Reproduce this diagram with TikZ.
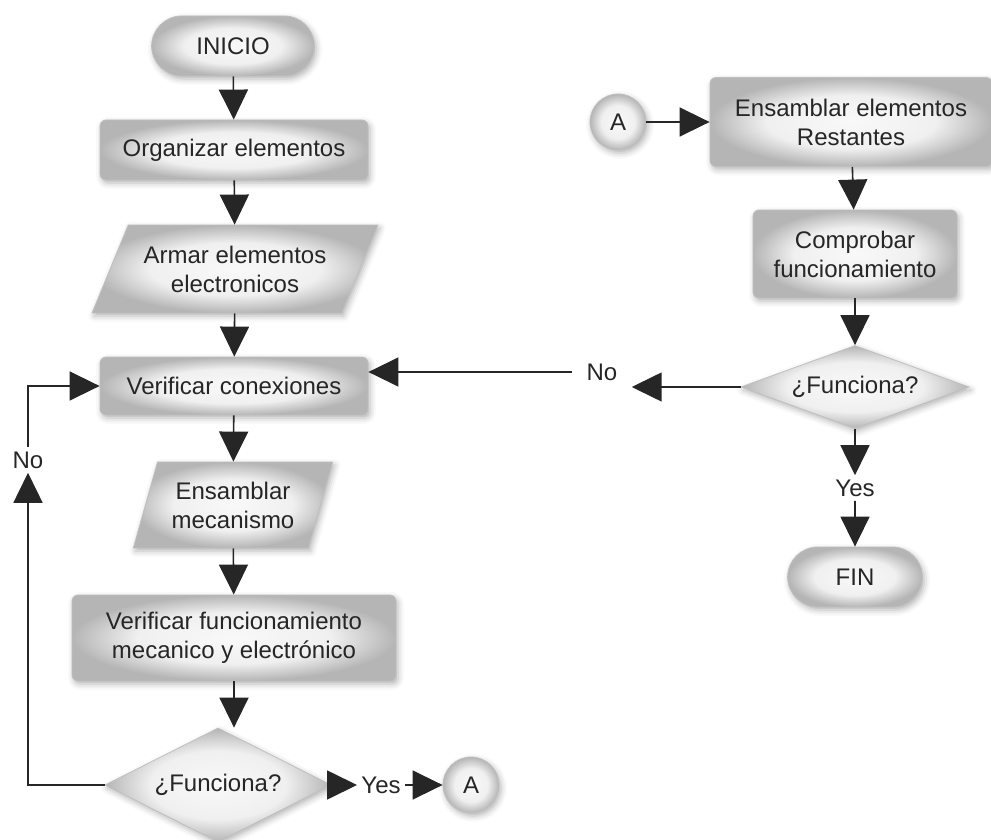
\documentclass[tikz,border=0pt]{standalone}
\usepackage{fontspec}
\setmainfont{Liberation Sans}
\usetikzlibrary{arrows.meta, shapes.geometric, shapes.misc, shadows.blur}
\pgfdeclareradialshading{glow}{\pgfpoint{0bp}{0bp}}{color(0bp)=(gray!5); color(15bp)=(gray!12); color(25bp)=(gray!58); color(50bp)=(gray!58)}

\begin{document}
\begin{tikzpicture}
        [x=0.5pt, y=-0.5pt, font=\fontsize{12}{14.5}\selectfont, text=black!85,
        glow/.style={shading=glow, draw=gray!50, thin,
          blur shadow={shadow xshift=1pt, shadow yshift=-1.5pt, shadow blur radius=3pt, shadow opacity=30}},
        box/.style={rectangle, rounded corners=3pt, glow, align=center},
        term/.style={rounded rectangle, glow, minimum height=30pt},
        io/.style={trapezium, trapezium stretches=true, glow, align=center},
        dec/.style={diamond, aspect=2.5, inner sep=0pt, glow},
        conn/.style={circle, glow, minimum size=28pt, inner sep=0pt},
        lbl/.style={inner xsep=2pt, inner ysep=2pt},
        arr/.style={->, >={Triangle[length=15pt, width=14.5pt]}, draw=black!85, line width=0.8pt}]
        \useasboundingbox (0, 0) rectangle (991, 840);
        \node (ca) at (471, 785) [conn] {A};
        \node (yes1) at (381, 785) [lbl] {Yes}
          edge[arr] (ca);
        \node (d1) at (218, 785) [dec, minimum width=113pt, minimum height=57pt] {¿Funciona?}
          edge[arr] (yes1);
        \node (vf) at (234, 638) [box, minimum width=162pt, minimum height=43pt] {Verificar funcionamiento\\mecanico y electrónico};
        \node (mec) at (233, 505) [io, trapezium left angle=70, trapezium right angle=110,
          minimum width=100pt, minimum height=43pt] {Ensamblar\\mecanismo}
          edge[arr] (vf);
        \node (vc) at (234, 386) [box, minimum width=134pt, minimum height=29pt] {Verificar conexiones}
          edge[arr] (mec);
        \node (armar) at (235, 269) [io, trapezium left angle=61, trapezium right angle=119,
          minimum width=143pt, minimum height=44pt] {Armar elementos\\electronicos}
          edge[arr] (vc);
        \node (org) at (234, 150) [box, minimum width=134pt, minimum height=30pt] {Organizar elementos}
          edge[arr] (armar);
        \node (inicio) at (233, 46) [term, minimum width=88pt] {INICIO}
          edge[arr] (org);
        \node (no1) at (28, 460) [lbl] {No};
        \node (fin) at (855, 577) [term, minimum width=74pt] {FIN};
        \node (yes2) at (855, 488) [lbl] {Yes}
          edge[arr] (fin);
        \node (d2) at (855, 387) [dec, minimum width=114pt, minimum height=41.5pt] {¿Funciona?}
          edge[arr] (yes2);
        \node (cf) at (855, 254) [box, minimum width=102pt, minimum height=44pt] {Comprobar\\funcionamiento}
          edge[arr] (d2);
        \node (er) at (851, 122) [box, minimum width=141pt, minimum height=44.5pt] {Ensamblar elementos\\Restantes}
          edge[arr] (cf);
        \node (cb) at (618, 122) [conn] {A}
          edge[arr] (er);
        \node (no2) at (602, 372) [lbl, inner xsep=7pt] {No};
        \draw[arr] (vf) -- (vf |- d1.north);
        \draw[arr] (d1.west) -| (no1.south);
        \draw[arr] (no1.north) |- (vc.west);
        \draw[arr] (d2.west) -- (d2.west -| no2.east);
        \draw[arr] (no2.west) -- (no2.west -| vc.east);
     \end{tikzpicture}
\end{document}
